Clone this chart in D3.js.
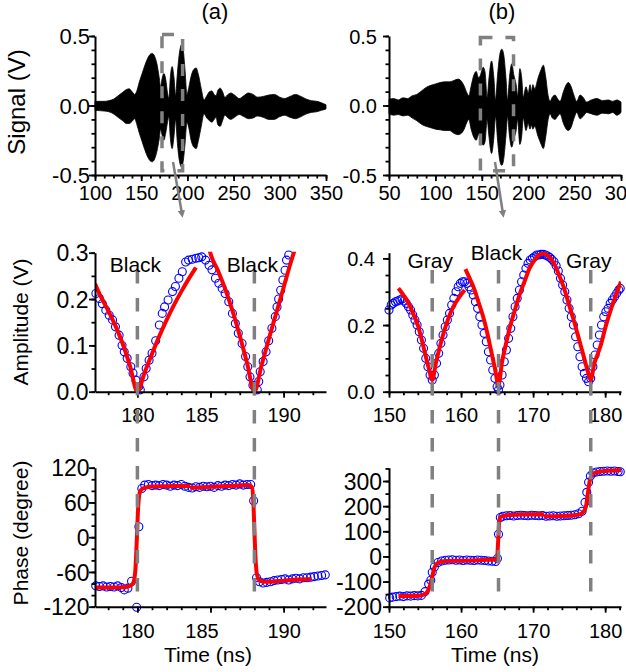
<!DOCTYPE html>
<html><head><meta charset="utf-8">
<script src="https://cdn.jsdelivr.net/npm/d3@7"></script>
<style>
body{margin:0;background:#fff;}
svg{display:block;}
</style></head><body>
<svg id="c" width="626" height="672"></svg>
<script>
// ---------------- DATA ----------------
// (a) top: signal envelope
const sigA_t  = [100,110,115,120,125,130,134,137,140,143,145,148,151,154,157,160,162,164.5,167,169.5,171,172.5,174.5,176.5,178.5,180,181.5,183.5,185.5,187.3,188.8,190.5,192.5,194,195.5,197.5,199.5,201.5,204,207,209.5,212,215,218,221,224,226.5,229,231,233,235.5,238,240.5,244,247,251,256,261,266,271,276,282,288,294,300,305,311,317,323,329,334,340,345,350];
const sigA_hi = [0.03,0.03,0.035,0.045,0.07,0.095,0.115,0.12,0.1,0.08,0.1,0.17,0.23,0.29,0.34,0.37,0.375,0.355,0.3,0.2,0.13,0.19,0.23,0.19,0.09,0.05,0.2,0.28,0.2,0.07,0.2,0.33,0.42,0.44,0.4,0.25,0.08,0.13,0.21,0.26,0.27,0.22,0.12,0.04,0.07,0.1,0.105,0.08,0.07,0.11,0.125,0.1,0.06,0.08,0.09,0.075,0.05,0.07,0.09,0.08,0.06,0.065,0.075,0.08,0.06,0.05,0.065,0.08,0.065,0.045,0.035,0.03,0.02,0.005];
const sigA_lo = [-0.035,-0.04,-0.045,-0.06,-0.085,-0.11,-0.13,-0.13,-0.115,-0.095,-0.13,-0.2,-0.26,-0.32,-0.37,-0.4,-0.405,-0.385,-0.33,-0.24,-0.17,-0.21,-0.25,-0.2,-0.12,-0.08,-0.23,-0.31,-0.22,-0.1,-0.24,-0.36,-0.43,-0.445,-0.4,-0.27,-0.12,-0.16,-0.25,-0.3,-0.31,-0.25,-0.15,-0.06,-0.09,-0.11,-0.12,-0.1,-0.085,-0.14,-0.15,-0.11,-0.07,-0.09,-0.1,-0.085,-0.065,-0.08,-0.095,-0.09,-0.075,-0.085,-0.1,-0.1,-0.08,-0.07,-0.085,-0.095,-0.08,-0.06,-0.05,-0.045,-0.035,-0.025];
// (b) top: signal envelope
const sigB_t  = [50,55,60,65,70,75,80,85,90,95,100,105,110,115,120,124.5,128,131,134,136,138.5,141.5,144,146.5,148,151.5,153.5,155.8,157.5,160.5,163,164.8,167,169.5,171.5,173.5,176,177.8,179.8,182.3,184.5,187,188.6,191,193,194.7,197.6,200,202,203.5,205,207,210.5,214,216.3,219,221.5,223.5,226,229,231.5,234.3,238,241,243.3,246,249,252.3,255.9,259,263,268,274,280,286.5,291,295.5,300];
const sigB_hi = [0.045,0.05,0.04,0.055,0.05,0.07,0.08,0.105,0.13,0.145,0.155,0.165,0.17,0.17,0.18,0.19,0.175,0.14,0.09,0.07,0.14,0.22,0.245,0.2,0.21,0.275,0.24,0.06,0.18,0.32,0.2,0.04,0.22,0.37,0.405,0.37,0.2,0.04,0.2,0.3,0.22,0.15,0.07,0.265,0.2,0.06,0.135,0.09,0.15,0.1,0.15,0.12,0.195,0.26,0.29,0.2,0.07,0.03,0.06,0.075,0.05,0.03,0.1,0.15,0.165,0.14,0.08,0.03,0.075,0.06,0.025,0.04,0.05,0.035,0.04,0.03,0.04,0.025];
const sigB_lo = [-0.06,-0.07,-0.065,-0.075,-0.07,-0.09,-0.11,-0.135,-0.15,-0.16,-0.17,-0.175,-0.18,-0.18,-0.2,-0.21,-0.2,-0.17,-0.12,-0.1,-0.17,-0.23,-0.25,-0.21,-0.23,-0.285,-0.26,-0.1,-0.21,-0.345,-0.23,-0.08,-0.25,-0.4,-0.43,-0.39,-0.22,-0.08,-0.22,-0.3,-0.24,-0.18,-0.1,-0.28,-0.22,-0.09,-0.18,-0.13,-0.17,-0.14,-0.17,-0.15,-0.22,-0.28,-0.31,-0.22,-0.1,-0.06,-0.09,-0.1,-0.08,-0.06,-0.13,-0.17,-0.18,-0.16,-0.1,-0.05,-0.095,-0.08,-0.05,-0.06,-0.07,-0.055,-0.06,-0.05,-0.07,-0.05];

// (a) middle: amplitude, measured (circles) and fit (red, null = break)
const ampA_t = [177.16,177.4,177.6,177.84,178.07,178.3,178.5,178.75,178.95,179.1,179.3,179.55,179.7,179.9,180.1,180.2,180.45,180.6,180.8,181.0,181.25,181.5,181.7,181.86,182.1,182.4,182.6,182.84,183.07,183.3,183.5,183.75,184.0,184.2,184.4,184.66,184.9,185.1,185.34,185.57,185.8,186.0,186.25,186.5,186.7,186.9,187.16,187.4,187.55,187.7,187.9,188.2,188.3,188.4,188.6,188.8,188.98,189.2,189.43,189.55,189.66,189.8,189.95,190.1,190.2,190.35];
const ampA_v = [0.212,0.201,0.19,0.176,0.165,0.155,0.14,0.122,0.1,0.086,0.072,0.054,0.04,0.025,0.011,0.004,0.032,0.05,0.068,0.083,0.11,0.144,0.169,0.183,0.198,0.216,0.227,0.245,0.259,0.28,0.284,0.286,0.288,0.289,0.291,0.284,0.273,0.263,0.245,0.234,0.223,0.212,0.194,0.169,0.147,0.126,0.104,0.076,0.054,0.032,0.014,0.004,0.022,0.043,0.065,0.086,0.11,0.137,0.162,0.183,0.2,0.219,0.241,0.262,0.284,0.295];
const ampFitA_t = [177.1,177.5,178,178.5,179,179.5,180,180.5,181,181.5,182,182.5,183,183.5,184,null,184.9,185,185.5,186,186.5,187,187.5,188,188.5,189,189.5,190,190.5,190.8];
const ampFitA_v = [0.233,0.205,0.175,0.142,0.103,0.055,0,0.042,0.082,0.12,0.155,0.187,0.216,0.243,0.268,null,0.31,0.298,0.262,0.222,0.175,0.121,0.062,0,0.058,0.115,0.17,0.225,0.28,0.31];
// (b) middle
const ampB_t = [150.0,150.3,150.6,150.9,151.2,151.5,151.8,152.1,152.4,152.7,153.0,153.3,153.6,153.9,154.2,154.5,154.8,155.1,155.4,155.7,156.0,156.3,156.6,156.9,157.2,157.5,157.8,158.1,158.4,158.7,159.0,159.3,159.6,159.9,160.2,160.5,160.8,161.1,161.4,161.7,162.0,162.3,162.6,162.9,163.2,163.5,163.8,164.1,164.4,164.7,165.0,165.2,165.4,165.7,166.0,166.3,166.6,166.9,167.2,167.5,167.8,168.1,168.4,168.7,169.0,169.3,169.6,169.9,170.2,170.5,170.8,171.1,171.4,171.7,172.0,172.3,172.6,172.9,173.2,173.5,173.8,174.1,174.4,174.7,175.0,175.3,175.6,175.9,176.2,176.5,176.8,177.1,177.4,177.7,178.0,178.3,178.6,178.9,179.2,179.5,179.8,180.1,180.4,180.7,181.0,181.3,181.6,181.9,182.1];
const ampB_v = [0.245,0.26,0.265,0.27,0.272,0.275,0.278,0.272,0.265,0.255,0.245,0.23,0.215,0.2,0.18,0.155,0.13,0.1,0.075,0.05,0.035,0.05,0.085,0.115,0.145,0.17,0.195,0.215,0.235,0.26,0.28,0.3,0.315,0.325,0.33,0.33,0.325,0.315,0.305,0.29,0.27,0.25,0.225,0.2,0.175,0.15,0.12,0.095,0.065,0.04,0.015,0.005,0.02,0.05,0.09,0.125,0.16,0.19,0.225,0.255,0.28,0.305,0.33,0.35,0.37,0.385,0.395,0.4,0.405,0.41,0.41,0.412,0.412,0.41,0.407,0.403,0.397,0.39,0.378,0.362,0.34,0.32,0.3,0.275,0.25,0.225,0.2,0.165,0.135,0.105,0.075,0.055,0.04,0.03,0.04,0.075,0.11,0.14,0.17,0.2,0.225,0.24,0.25,0.265,0.275,0.285,0.295,0.305,0.31];
const ampFitB_t = [151.3,152,152.6,153.3,154,154.5,155,155.5,156,156.5,157,157.5,158,158.6,159.2,159.8,160.5,null,160.6,161.2,161.8,162.4,163,163.6,164.1,164.7,165.2,165.7,166.2,166.8,167.4,168.1,168.8,169.5,170.2,170.8,171.5,172.2,172.9,173.6,174.3,175,175.7,176.4,177.1,177.6,178,178.5,179,179.4,180,180.7,181.4,182.2];
const ampFitB_v = [0.31,0.29,0.27,0.237,0.2,0.16,0.115,0.072,0.035,0.085,0.13,0.17,0.205,0.24,0.265,0.285,0.305,null,0.368,0.34,0.31,0.27,0.23,0.18,0.13,0.07,0.02,0.09,0.14,0.195,0.24,0.29,0.33,0.37,0.395,0.41,0.415,0.405,0.385,0.35,0.31,0.26,0.21,0.155,0.1,0.06,0.035,0.085,0.115,0.14,0.19,0.24,0.285,0.33];

// (a) bottom: phase
const phA_t = [177.15,177.4,177.65,177.9,178.15,178.4,178.65,178.9,179.1,179.35,179.6,179.95,180.1,180.3,180.5,180.75,181.0,181.25,181.5,181.75,182.0,182.25,182.5,182.75,183.0,183.25,183.5,183.75,184.0,184.25,184.5,184.75,185.0,185.25,185.5,185.75,186.0,186.25,186.5,186.75,187.0,187.25,187.5,187.75,187.95,188.15,188.35,188.6,188.85,189.1,189.35,189.6,189.85,190.1,190.35,190.6,190.85,191.1,191.35,191.6,191.85,192.1,192.35,192.6,192.85];
const phA_v = [-84,-85,-84,-86,-85,-86,-84,-87,-91,-88,-76,-121,18,84,90,91,89,90,89,91,90,88,90,89,91,88,86,85,87,86,88,87,88,86,89,88,90,89,91,90,92,90,91,91,63,-70,-77,-79,-78,-77,-75,-74,-73,-72,-74,-72,-71,-72,-70,-70,-69,-68,-67,-66,-65];
const phFitA_t = [177.1,178,179,179.4,179.7,179.85,179.95,180.05,180.15,180.3,180.6,181,182,183,183.6,null,183.6,185,186,187,187.6,187.85,187.95,188.05,188.15,188.3,188.6,189,190,191,191.9];
const phFitA_v = [-87,-87,-86.5,-85,-80,-60,-10,50,76,83,86,87.5,88,88.5,88.5,null,85.5,87,88.5,89.5,90,86,50,-20,-60,-73,-77,-77,-75,-73,-72];
// (b) bottom
const phB_t = [150.1,150.5,151,151.5,152,152.5,153,153.5,154,154.5,155,155.5,155.8,156.0,156.3,156.8,157.3,157.8,158.3,158.8,159.3,159.8,160.3,160.8,161.3,161.8,162.3,162.8,163.3,163.8,164.3,164.8,165.05,165.2,165.45,165.8,166.3,166.8,167.3,167.8,168.3,168.8,169.3,169.8,170.3,170.8,171.3,171.8,172.3,172.8,173.3,173.8,174.3,174.8,175.3,175.8,176.3,176.8,177.2,177.45,177.7,177.95,178.3,178.8,179.3,179.8,180.3,180.8,181.3,181.8,182.1];
const phB_v = [-165,-162,-160,-158,-160,-157,-158,-156,-157,-155,-140,-110,-95,-63,-42,-24,-18,-15,-14,-13,-15,-14,-16,-14,-15,-16,-14,-15,-16,-18,-19,-20,-8,88,155,160,162,163,161,163,164,163,162,164,163,162,163,160,161,162,160,161,162,163,164,166,170,180,215,255,295,320,332,336,338,339,340,339,340,338,337];
const phFitB_t = [151.3,153,154.5,155.2,155.7,156.0,156.3,156.7,157.3,158,160,163,164.8,165.0,165.15,165.3,165.5,166,167,169,171.5,null,171.5,174,176,176.8,177.3,177.6,177.85,178.1,178.5,179,180,182.2];
const phFitB_v = [-157,-157,-155,-145,-115,-80,-45,-27,-20,-18,-17,-14,-12,-5,60,140,158,162,165,167,168,null,160,161,165,172,195,250,300,322,332,336,340,343];

// markers, labels and zoom boxes
const markA = [180, 188];
const markA_lbl = ["Black", "Black"];
const markB = [156, 165.2, 178];
const markB_lbl = ["Gray", "Black", "Gray"];
const boxA = [172.5, 194.8, -0.47, 0.51];
const boxB = [148.5, 184.2, -0.47, 0.49];

// tick values
const sigA_xt = [100,150,200,250,300,350];
const sigB_xt = [50,100,150,200,250,300];
const sig_yt = [-0.5,0,0.5];
const timeA_xt = [180,185,190];
const timeB_xt = [150,160,170,180];
const ampA_yt = [0,0.1,0.2,0.3];
const ampB_yt = [0,0.2,0.4];
const phA_yt = [-120,-60,0,60,120];
const phB_yt = [-200,-100,0,100,200,300];

// ---------------- DRAW ----------------
const FONT = '"Liberation Sans", Arial, Helvetica, sans-serif';
const svg = d3.select("#c").attr("font-family", FONT);
const BLUE = "#0000ff", RED = "#ff0000", GRAY = "#808080";

const COL = [{x0:95, x1:326}, {x0:389, x1:621}];
const ROW = [{y0:36, y1:175}, {y0:252.7, y1:391.7}, {y0:467.7, y1:606.7}];

let clipN = 0;
function panel(c, r, xd, yd, o) {
  const p = Object.assign({}, COL[c], ROW[r], o);
  p.x = d3.scaleLinear().domain(xd).range([p.x0, p.x1]);
  p.y = d3.scaleLinear().domain(yd).range([p.y1, p.y0]);
  const id = "clp" + (clipN++);
  svg.append("clipPath").attr("id", id).append("rect")
    .attr("x", p.x0).attr("y", p.y0 - 1).attr("width", p.x1 - p.x0).attr("height", p.y1 - p.y0 + 1);
  p.clip = `url(#${id})`;
  return p;
}

function axes(p) {
  const gxm = svg.append("g").attr("transform", `translate(0,${p.y1})`)
    .call(d3.axisBottom(p.x).tickValues(p.xMinor).tickSize(3.5).tickSizeOuter(0).tickFormat(""));
  gxm.select(".domain").remove();
  const gym = svg.append("g").attr("transform", `translate(${p.x0},0)`)
    .call(d3.axisLeft(p.y).tickValues(p.yMinor).tickSize(3.5).tickSizeOuter(0).tickFormat(""));
  gym.select(".domain").remove();
  const gx = svg.append("g").attr("transform", `translate(0,${p.y1})`)
    .call(d3.axisBottom(p.x).tickValues(p.xMajor).tickSize(6).tickSizeOuter(0).tickFormat(p.xFmt));
  const gy = svg.append("g").attr("transform", `translate(${p.x0},0)`)
    .call(d3.axisLeft(p.y).tickValues(p.yMajor).tickSize(6).tickSizeOuter(0).tickFormat(p.yFmt));
  [gxm, gym, gx, gy].forEach(g => {
    g.attr("font-family", FONT).attr("font-size", 20);
    g.selectAll("line").attr("stroke", "#000").attr("stroke-width", 1.8);
    g.selectAll(".domain").attr("stroke", "#000").attr("stroke-width", 2);
  });
  gx.selectAll("text").attr("fill", "#000").attr("dy", null).attr("y", p.xLabY)
    .attr("dx", d => (p.xShift && p.xShift[d]) || 0);
  gy.attr("font-size", p.yFont);
  gy.selectAll("text").attr("fill", "#000").attr("x", -p.yGap).attr("dy", "0.35em");
}

const f1 = d => d.toFixed(1);
const f0 = d => String(d);
const rng = (a, b, s) => d3.range(0, Math.round((b - a) / s) + 1).map(i => a + i * s);
// in the original the "185" label sits slightly left of its tick
const shiftA = {185: -9};

// --- panels
const pSA = panel(0, 0, [100, 350], [-0.5, 0.5], {xMajor: sigA_xt, xMinor: rng(100, 350, 10), yMajor: sig_yt, yMinor: rng(-0.5, 0.5, 0.1), xFmt: f0, yFmt: f1, xLabY: 25, yGap: 5, yFont: 22});
const pSB = panel(1, 0, [50, 300], [-0.5, 0.5], {xMajor: sigB_xt, xMinor: rng(50, 300, 10), yMajor: sig_yt, yMinor: rng(-0.5, 0.5, 0.1), xFmt: f0, yFmt: f1, xLabY: 25, yGap: 12, yFont: 20});
const pAA = panel(0, 1, [177.1, 192.9], [0, 0.3], {xMajor: timeA_xt, xMinor: rng(178, 192, 1), yMajor: ampA_yt, yMinor: rng(0, 0.3, 0.05), xFmt: f0, yFmt: f1, xLabY: 30, yGap: 6.5, yFont: 23, xShift: shiftA});
const pAB = panel(1, 1, [150, 182.2], [0, 0.417], {xMajor: timeB_xt, xMinor: rng(150, 182, 2), yMajor: ampB_yt, yMinor: rng(0, 0.4, 0.05), xFmt: f0, yFmt: f1, xLabY: 30, yGap: 14, yFont: 20});
const pPA = panel(0, 2, [177.1, 192.9], [-120, 120], {xMajor: timeA_xt, xMinor: rng(178, 192, 1), yMajor: phA_yt, yMinor: rng(-120, 120, 20), xFmt: f0, yFmt: f0, xLabY: 31, yGap: 5.5, yFont: 23, xShift: shiftA});
const pPB = panel(1, 2, [150, 182.2], [-200, 353], {xMajor: timeB_xt, xMinor: rng(150, 182, 2), yMajor: phB_yt, yMinor: rng(-200, 350, 50), xFmt: f0, yFmt: f0, xLabY: 31, yGap: 7, yFont: 23});

// --- signals
function signal(p, t, hi, lo) {
  const d = t.map((v, i) => ({t: v, hi: hi[i], lo: lo[i]}));
  svg.append("path").datum(d)
    .attr("d", d3.area().x(e => p.x(e.t)).y0(e => p.y(e.lo)).y1(e => p.y(e.hi)).curve(d3.curveMonotoneX))
    .attr("fill", "#000").attr("stroke", "#000").attr("stroke-width", 0.8);
}
signal(pSA, sigA_t, sigA_hi, sigA_lo);
signal(pSB, sigB_t, sigB_hi, sigB_lo);

// --- circles + fit
function scatterFit(p, t, v, ft, fv) {
  const pts = t.map((e, i) => ({t: e, v: v[i]}));
  svg.append("g").selectAll("circle").data(pts).join("circle")
    .attr("cx", d => p.x(d.t)).attr("cy", d => p.y(d.v)).attr("r", 4)
    .attr("fill", "none").attr("stroke", BLUE).attr("stroke-width", 1.1);
  const fit = ft.map((e, i) => ({t: e, v: fv[i]}));
  svg.append("path").datum(fit).attr("clip-path", p.clip)
    .attr("d", d3.line().defined(d => d.v !== null).x(d => p.x(d.t)).y(d => p.y(d.v)).curve(d3.curveMonotoneX))
    .attr("fill", "none").attr("stroke", RED).attr("stroke-width", 4).attr("stroke-linejoin", "round");
}
scatterFit(pAA, ampA_t, ampA_v, ampFitA_t, ampFitA_v);
scatterFit(pAB, ampB_t, ampB_v, ampFitB_t, ampFitB_v);
scatterFit(pPA, phA_t, phA_v, phFitA_t, phFitA_v);
scatterFit(pPB, phB_t, phB_v, phFitB_t, phFitB_v);

// --- axes
[pSA, pSB, pAA, pAB, pPA, pPB].forEach(axes);

// --- dashed markers and labels
function markers(p, m, lbl, ys) {
  m.forEach((t, i) => {
    svg.append("line").attr("x1", p.x(t)).attr("x2", p.x(t)).attr("y1", 270).attr("y2", 593)
      .attr("stroke", GRAY).attr("stroke-width", 3.5).attr("stroke-dasharray", "13.5,14.5");
    svg.append("text").attr("x", p.x(t) - 2).attr("y", ys[i]).attr("text-anchor", "middle")
      .attr("font-size", 21).attr("fill", "#000").text(lbl[i]);
  });
}
markers(pAA, markA, markA_lbl, [271.5, 271.5]);
markers(pAB, markB, markB_lbl, [268, 260, 268]);

// --- zoom boxes and arrows
svg.append("defs").append("marker").attr("id", "arr").attr("viewBox", "0 0 10 10")
  .attr("refX", 5).attr("refY", 5).attr("markerWidth", 3).attr("markerHeight", 3).attr("orient", "auto")
  .append("path").attr("d", "M0,0L10,5L0,10z").attr("fill", GRAY);
function zoomBox(p, b, a) {
  svg.append("rect").attr("x", p.x(b[0])).attr("y", p.y(b[3]))
    .attr("width", p.x(b[1]) - p.x(b[0])).attr("height", p.y(b[2]) - p.y(b[3]))
    .attr("fill", "none").attr("stroke", GRAY).attr("stroke-width", 3.5).attr("stroke-dasharray", "12,13");
  svg.append("line").attr("x1", a[0]).attr("y1", a[1]).attr("x2", a[2]).attr("y2", a[3])
    .attr("stroke", GRAY).attr("stroke-width", 2.5).attr("marker-end", "url(#arr)");
}
zoomBox(pSA, boxA, [173, 162, 182, 214]);
zoomBox(pSB, boxB, [495, 162, 503, 214]);

// --- titles
function txt(x, y, s, rot, fs) {
  const t = svg.append("text").attr("text-anchor", "middle").attr("font-size", fs || 21).attr("fill", "#000").text(s);
  if (rot) t.attr("transform", `translate(${x},${y}) rotate(-90)`);
  else t.attr("x", x).attr("y", y);
}
txt(215, 19, "(a)", false, 22);
txt(502, 19, "(b)", false, 22);
txt(25, 102, "Signal (V)", true, 24);
txt(27.5, 322, "Amplitude (V)", true);
txt(28, 533, "Phase (degree)", true);
txt(208, 662, "Time (ns)");
txt(495, 662, "Time (ns)");
</script>
</body></html>
